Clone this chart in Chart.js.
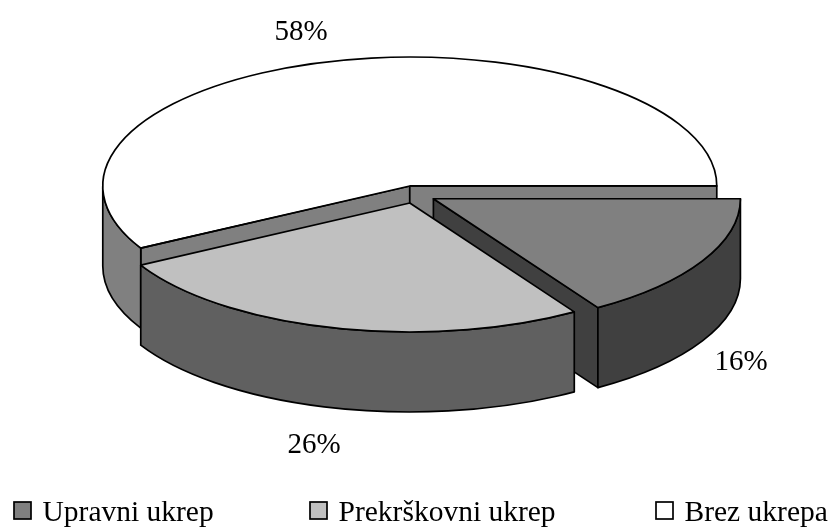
<!DOCTYPE html>
<html>
<head>
<meta charset="utf-8">
<title>Ukrepi</title>
<script src="https://cdn.jsdelivr.net/npm/chart.js@4/dist/chart.umd.js"></script>
<style>
    html, body { margin: 0; padding: 0; background: #fff; }
    canvas { display: block; }
</style>
</head>
<body>
<canvas id="pie" width="833" height="527"></canvas>
<script>
const categories = ['Upravni ukrep', 'Prekrškovni ukrep', 'Brez ukrepa'];
const shares = [16, 26, 58];
const topColors = ['#808080', '#c0c0c0', '#ffffff'];
const wallColors = ['#404040', '#606060', '#808080'];

// back slice first so the nearer walls cover it
const wallOrder = [2, 0, 1];
const labelCenters = [[741, 362], [314, 445], [301, 32]];
const legendLeft = [14, 310, 656];

const FONT = '"Liberation Serif", "Times New Roman", serif';
const TILT = 0.42;    // vertical squash of the disc
const DEPTH = 80;     // height of the walls
const RADIUS = 307;
const LINE = 1.7;

// ArcElement grows each slice by offset / 4 times a factor of its sweep
function radiusGrowth(arc) {
    const sweep = arc.endAngle - arc.startAngle;
    return arc.options.offset / 4 * (1 - Math.sin(Math.min(Math.PI, sweep)));
}

function sliceGeometry(arc) {
    const off = arc.options.offset / 4;
    const mid = (arc.startAngle + arc.endAngle) / 2;
    return {
        x: arc.x + Math.cos(mid) * off,
        y: arc.y + Math.sin(mid) * off * TILT,
        r: RADIUS,
        start: arc.startAngle,
        end: arc.endAngle
    };
}

function drawFace(ctx, s, angle, color) {
    ctx.beginPath();
    ctx.moveTo(s.x, s.y);
    ctx.lineTo(s.x + s.r * Math.cos(angle), s.y + s.r * TILT * Math.sin(angle));
    ctx.lineTo(s.x + s.r * Math.cos(angle), s.y + s.r * TILT * Math.sin(angle) + DEPTH);
    ctx.lineTo(s.x, s.y + DEPTH);
    ctx.closePath();
    ctx.fillStyle = color;
    ctx.fill();
    ctx.stroke();
}

function drawRim(ctx, s, color) {
    // only the part of the rim that turns towards the viewer
    const a = Math.max(s.start, 0);
    const b = Math.min(s.end, Math.PI);
    if (b <= a) return;
    ctx.beginPath();
    ctx.ellipse(s.x, s.y, s.r, s.r * TILT, 0, a, b);
    ctx.ellipse(s.x, s.y + DEPTH, s.r, s.r * TILT, 0, b, a, true);
    ctx.closePath();
    ctx.fillStyle = color;
    ctx.fill();
    ctx.stroke();
}

const disc3d = {
    id: 'disc3d',
    afterDatasetsUpdate(chart) {
        // same drawn radius for all slices
        chart.getDatasetMeta(0).data.forEach(arc => {
            arc.outerRadius = RADIUS - radiusGrowth(arc);
        });
    },
    beforeDatasetsDraw(chart) {
        const ctx = chart.ctx;
        const arcs = chart.getDatasetMeta(0).data;

        ctx.save();
        ctx.strokeStyle = '#000';
        ctx.lineWidth = LINE;
        ctx.lineJoin = 'round';
        wallOrder.forEach(i => {
            const s = sliceGeometry(arcs[i]);
            if (Math.cos(s.start) < 0) drawFace(ctx, s, s.start, wallColors[i]);
            if (Math.cos(s.end) > 0) drawFace(ctx, s, s.end, wallColors[i]);
            drawRim(ctx, s, wallColors[i]);
        });
        ctx.restore();

        // the library paints the tops, squashed around the disc centre
        const cy = arcs[0].y;
        ctx.save();
        ctx.translate(0, cy);
        ctx.scale(1, TILT);
        ctx.translate(0, -cy);
    },
    afterDatasetsDraw(chart) {
        const ctx = chart.ctx;
        const arcs = chart.getDatasetMeta(0).data;
        ctx.restore();

        // outlines stroked unsquashed to keep an even line width
        ctx.save();
        ctx.strokeStyle = '#000';
        ctx.lineWidth = LINE;
        ctx.lineJoin = 'round';
        arcs.forEach(arc => {
            const s = sliceGeometry(arc);
            ctx.beginPath();
            ctx.moveTo(s.x, s.y);
            ctx.ellipse(s.x, s.y, s.r, s.r * TILT, 0, s.start, s.end);
            ctx.closePath();
            ctx.stroke();
        });

        ctx.fillStyle = '#000';
        ctx.font = '29px ' + FONT;
        ctx.textAlign = 'center';
        ctx.textBaseline = 'middle';
        shares.forEach((v, i) => {
            ctx.fillText(v + '%', labelCenters[i][0], labelCenters[i][1]);
        });
        ctx.restore();
    },
    afterDraw(chart) {
        const ctx = chart.ctx;
        ctx.save();
        ctx.strokeStyle = '#000';
        ctx.lineWidth = LINE;
        ctx.font = '29.5px ' + FONT;
        ctx.textAlign = 'left';
        ctx.textBaseline = 'alphabetic';
        categories.forEach((name, i) => {
            ctx.fillStyle = topColors[i];
            ctx.fillRect(legendLeft[i], 502, 17, 17);
            ctx.strokeRect(legendLeft[i], 502, 17, 17);
            ctx.fillStyle = '#000';
            ctx.fillText(name, legendLeft[i] + 28.5, 521);
        });
        ctx.restore();
    }
};

new Chart(document.getElementById('pie'), {
    type: 'pie',
    data: {
        labels: categories,
        datasets: [{
            data: shares,
            backgroundColor: topColors,
            borderWidth: 0,
            offset: 84,
            radius: RADIUS
        }]
    },
    options: {
        responsive: false,
        animation: false,
        rotation: 90,
        layout: { padding: { right: 3, bottom: 138 } },
        plugins: {
            legend: { display: false },
            tooltip: { enabled: false }
        },
        events: []
    },
    plugins: [disc3d]
});
</script>
</body>
</html>
